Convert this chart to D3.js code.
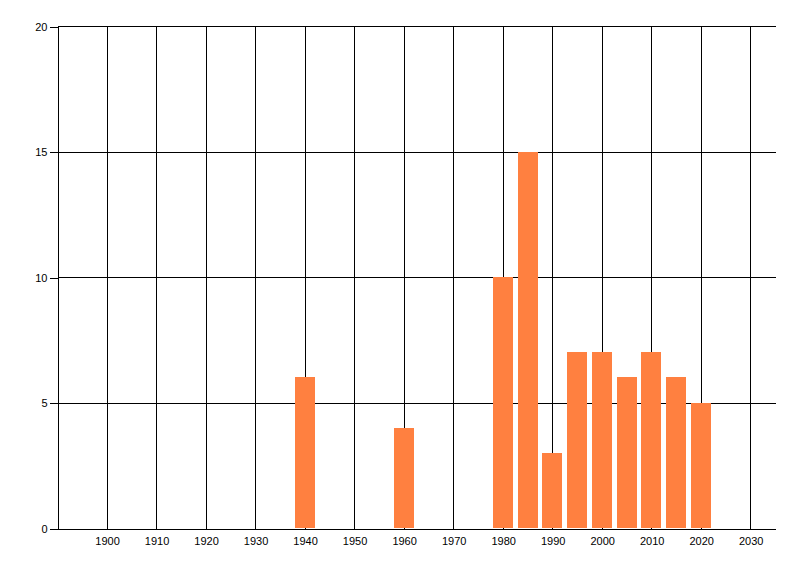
<!DOCTYPE html>
<html>
<head>
<meta charset="utf-8">
<script src="https://cdn.jsdelivr.net/npm/d3@7"></script>
<style>
  body { margin: 0; background: #fff; }
  .tick text { font-family: "Liberation Sans", Arial, sans-serif; font-size: 11px; fill: #000; }
</style>
</head>
<body>
<div id="chart"></div>
<script>
// data
var years = [1940, 1960, 1980, 1985, 1990, 1995, 2000, 2005, 2010, 2015, 2020];
var counts = [6, 4, 10, 15, 3, 7, 7, 6, 7, 6, 5];
var xTicks = [1900, 1910, 1920, 1930, 1940, 1950, 1960, 1970, 1980, 1990, 2000, 2010, 2020, 2030];
var yTicks = [0, 5, 10, 15, 20];

var width = 800, height = 576;
var plotLeft = 57, plotRight = 775, plotTop = 26, plotBottom = 528;

var svg = d3.select("#chart")
  .append("svg")
    .attr("width", width)
    .attr("height", height);

var x = d3.scaleLinear()
  .domain([1890, 2035])
  .range([plotLeft, plotRight]);

var y = d3.scaleLinear()
  .domain([0, 20])
  .range([plotBottom, plotTop]);

function px(v) { return Math.round(v) + 0.5; }

// grid lines
var grid = svg.append("g")
  .attr("stroke", "#000")
  .attr("stroke-width", 1)
  .attr("shape-rendering", "crispEdges");

grid.selectAll("line.v")
  .data(xTicks)
  .enter()
  .append("line")
    .attr("class", "v")
    .attr("x1", function (d) { return px(x(d)); })
    .attr("x2", function (d) { return px(x(d)); })
    .attr("y1", px(y(20)))
    .attr("y2", px(y(0)));

grid.selectAll("line.h")
  .data(yTicks.slice(1))
  .enter()
  .append("line")
    .attr("class", "h")
    .attr("x1", px(x(1890)))
    .attr("x2", px(x(2035)))
    .attr("y1", function (d) { return px(y(d)); })
    .attr("y2", function (d) { return px(y(d)); });

// bars
var barW = x(1894) - x(1890);
svg.append("g")
  .selectAll("rect")
  .data(years)
  .enter()
  .append("rect")
    .attr("x", function (d) { return Math.round(x(d) - barW / 2); })
    .attr("width", Math.round(barW))
    .attr("y", function (d, i) { return Math.round(y(counts[i])); })
    .attr("height", function (d, i) { return Math.round(y(0)) - Math.round(y(counts[i])); })
    .attr("fill", "#FF8040")
    .attr("shape-rendering", "crispEdges");

// axes
svg.append("g")
  .attr("transform", "translate(" + px(plotLeft) + ",0.5)")
  .call(d3.axisLeft(y).tickValues(yTicks).tickSize(8).tickSizeOuter(0).tickPadding(2));

svg.append("g")
  .attr("transform", "translate(0.5," + px(plotBottom) + ")")
  .call(d3.axisBottom(x).tickValues(xTicks).tickFormat(d3.format("d")).tickSize(0).tickPadding(9));

svg.selectAll(".domain, .tick line")
  .attr("stroke", "#000")
  .attr("shape-rendering", "crispEdges");
</script>
</body>
</html>
